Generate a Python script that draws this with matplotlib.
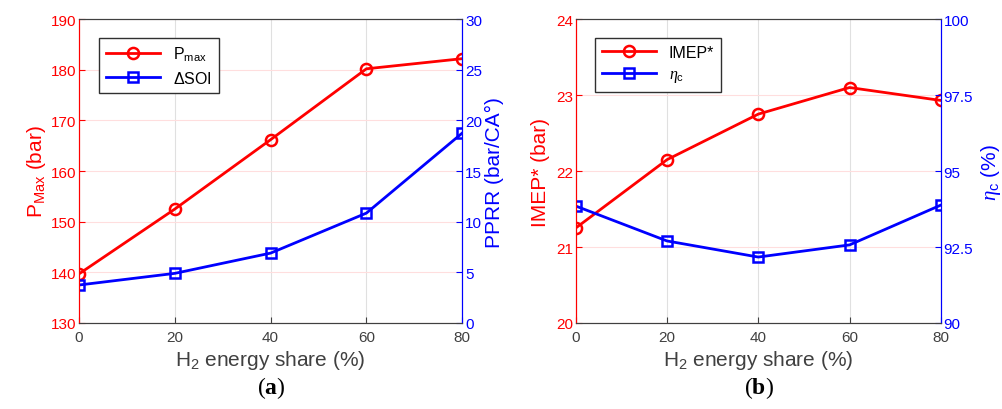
import matplotlib
matplotlib.use("Agg")
from matplotlib import pyplot as plt

plt.rcParams['font.family'] = ['Liberation Sans', 'DejaVu Sans']
plt.rcParams['mathtext.fontset'] = 'custom'
plt.rcParams['mathtext.rm'] = 'Liberation Sans'
plt.rcParams['mathtext.it'] = 'Liberation Serif:italic'
plt.rcParams['mathtext.bf'] = 'Liberation Serif:bold'

# data
h2_share = [0, 20, 40, 60, 80]
p_max = [139.7, 152.5, 166.2, 180.2, 182.2]
pprr = [3.75, 4.9, 6.9, 10.85, 18.75]
imep = [21.25, 22.15, 22.75, 23.1, 22.93]
eta_c = [93.85, 92.7, 92.17, 92.57, 93.88]

RED = '#ff0000'
BLUE = '#0000ff'
GRAY = '#404040'

fig = plt.figure(figsize=(10.03, 4.10), dpi=100)

def setup(ax, ax2, ylim_l, yticks_l, ylim_r, yticks_r, ytl_r):
    ax.set_xlim(0, 80)
    ax.set_xticks(h2_share)
    ax.set_ylim(*ylim_l)
    ax.set_yticks(yticks_l)
    ax2.set_ylim(*ylim_r)
    ax2.set_yticks(yticks_r)
    ax2.set_yticklabels(ytl_r)
    ax.grid(axis='x', color='#e0e0e0', lw=0.8)
    ax.grid(axis='y', color='#ffdede', lw=0.8)
    ax.set_axisbelow(True)
    ax.tick_params(axis='x', colors=GRAY, labelsize=11, direction='in', length=4, pad=5)
    ax.tick_params(axis='y', colors=RED, labelsize=11, direction='in', length=4, pad=2)
    ax2.tick_params(axis='y', colors=BLUE, labelsize=11, direction='in', length=4, pad=2)
    ax.spines['left'].set_color(RED)
    ax2.spines['left'].set_color(RED)
    ax2.spines['right'].set_color(BLUE)
    ax.spines['right'].set_color(BLUE)
    for s in ['top', 'bottom']:
        ax.spines[s].set_color(GRAY)
        ax2.spines[s].set_color(GRAY)
    ax.set_xlabel('H$_2$ energy share (%)', fontsize=15, color=GRAY, labelpad=3)

# panel (a)
ax1 = fig.add_axes([0.0788, 0.2098, 0.382, 0.741])
ax1b = ax1.twinx()
l1, = ax1.plot(h2_share, p_max, color=RED, lw=2, marker='o', ms=8,
               mfc='none', mew=1.8, label='P$_{\\mathrm{max}}$')
l2, = ax1b.plot(h2_share, pprr, color=BLUE, lw=2, marker='s', ms=7,
                mfc='none', mew=1.8, label='$\\Delta$SOI')
setup(ax1, ax1b, (130, 190), range(130, 191, 10), (0, 30), range(0, 31, 5),
      [str(v) for v in range(0, 31, 5)])
ax1.set_ylabel('P$_{\\mathrm{Max}}$ (bar)', fontsize=15, color=RED, labelpad=2)
ax1b.set_ylabel('PPRR (bar/CA°)', fontsize=15, color=BLUE, labelpad=2)
leg = ax1b.legend(handles=[l1, l2], loc='upper left', bbox_to_anchor=(0.03, 0.965),
                  fontsize=11.5, fancybox=False, edgecolor='#303030',
                  framealpha=1, handlelength=3.4, borderpad=0.45, labelspacing=0.4)
leg.get_frame().set_linewidth(1)

# panel (b)
ax2 = fig.add_axes([0.574, 0.2098, 0.364, 0.741])
ax2b = ax2.twinx()
l3, = ax2.plot(h2_share, imep, color=RED, lw=2, marker='o', ms=8,
               mfc='none', mew=1.8, label='IMEP*')
l4, = ax2b.plot(h2_share, eta_c, color=BLUE, lw=2, marker='s', ms=7,
                mfc='none', mew=1.8, label='$\\mathit{\\eta}_{\\mathrm{c}}$')
setup(ax2, ax2b, (20, 24), range(20, 25), (90, 100), [90, 92.5, 95, 97.5, 100],
      ['90', '92.5', '95', '97.5', '100'])
ax2.set_ylabel('IMEP* (bar)', fontsize=15, color=RED, labelpad=4)
ax2b.set_ylabel('$\\mathit{\\eta}_{\\mathrm{c}}$ (%)', fontsize=15, color=BLUE, labelpad=4)
leg = ax2b.legend(handles=[l3, l4], loc='upper left', bbox_to_anchor=(0.03, 0.965),
                  fontsize=11.5, fancybox=False, edgecolor='#303030',
                  framealpha=1, handlelength=3.4, borderpad=0.45, labelspacing=0.4)
leg.get_frame().set_linewidth(1)

fig.text(0.27, 0.04, '($\\mathbf{a}$)', ha='center', fontsize=17, family='Liberation Serif')
fig.text(0.757, 0.04, '($\\mathbf{b}$)', ha='center', fontsize=17, family='Liberation Serif')

fig.savefig('out.png', dpi=100)
